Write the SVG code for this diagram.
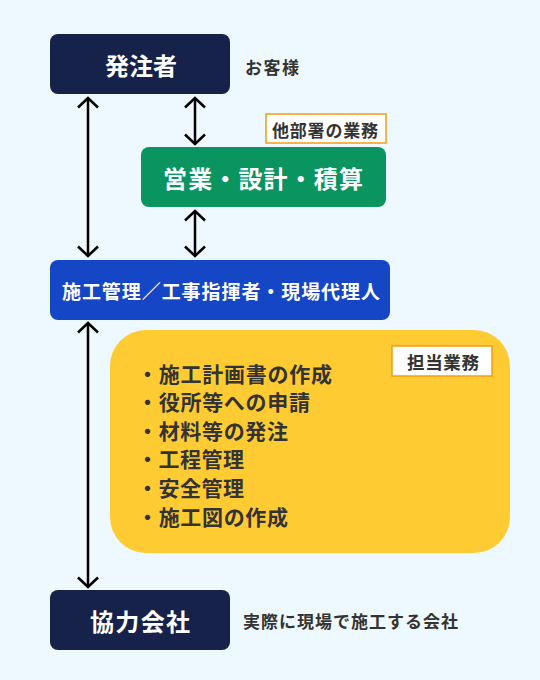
<svg xmlns="http://www.w3.org/2000/svg" width="540" height="680" viewBox="0 0 540 680">
<style>
.t{font-family:"Noto Sans CJK JP","Noto Sans",sans-serif;font-weight:bold;dominant-baseline:central}
.w{fill:#ffffff}
.d{fill:#333333}
.tag{fill:#ffffff;stroke:#f39c12;stroke-width:1.5}
.arr{stroke:#000;stroke-width:2.5;fill:none;marker-start:url(#ah);marker-end:url(#ah)}
</style>
<defs>
<marker id="ah" viewBox="0 0 22 22" refX="11" refY="11" markerWidth="22" markerHeight="22" markerUnits="userSpaceOnUse" orient="auto-start-reverse">
<polyline points="1.5,1 11,11 1.5,21" fill="none" stroke="#000" stroke-width="2.5"/>
</marker>
</defs>
<rect width="540" height="680" fill="#eef8ff"/>
<g id="connectors">
<line class="arr" x1="88" y1="98" x2="88" y2="256"/>
<line class="arr" x1="195" y1="98" x2="195" y2="144"/>
<line class="arr" x1="195" y1="211" x2="195" y2="256"/>
<line class="arr" x1="88" y1="323" x2="88" y2="587"/>
</g>
<g id="client">
<rect x="50" y="34" width="180" height="60" rx="8" fill="#17224a"/>
<text class="t w" x="105" y="64" font-size="24" textLength="72">発注者</text>
<text class="t d" x="245" y="66" font-size="17" textLength="54">お客様</text>
</g>
<g id="sales">
<rect x="266" y="114" width="120" height="29" class="tag"/>
<text class="t d" x="272" y="129" font-size="17" textLength="106">他部署の業務</text>
<rect x="141" y="147" width="245" height="60" rx="8" fill="#0a9560"/>
<text class="t w" x="163" y="177" font-size="24" textLength="200">営業・設計・積算</text>
</g>
<g id="manager">
<rect x="50" y="260" width="340" height="60" rx="8" fill="#1446c6"/>
<text class="t w" x="62" y="290" font-size="19" textLength="318">施工管理／工事指揮者・現場代理人</text>
</g>
<g id="duties">
<rect x="110" y="330" width="400" height="223" rx="36" fill="#ffcb33"/>
<rect x="392" y="346" width="100" height="30" class="tag"/>
<text class="t d" x="407" y="361" font-size="17.5" textLength="72">担当業務</text>
<text class="t d" x="137" y="373" font-size="21" textLength="195">・施工計画書の作成</text>
<text class="t d" x="137" y="401" font-size="21" textLength="173">・役所等への申請</text>
<text class="t d" x="137" y="429.5" font-size="21" textLength="151">・材料等の発注</text>
<text class="t d" x="137" y="458" font-size="21" textLength="107">・工程管理</text>
<text class="t d" x="137" y="486.5" font-size="21" textLength="107">・安全管理</text>
<text class="t d" x="137" y="515.5" font-size="21" textLength="151">・施工図の作成</text>
</g>
<g id="partner">
<rect x="50" y="590" width="180" height="60" rx="8" fill="#17224a"/>
<text class="t w" x="90" y="620" font-size="24" textLength="100">協力会社</text>
<text class="t d" x="243" y="620.5" font-size="17" textLength="215">実際に現場で施工する会社</text>
</g>
</svg>
